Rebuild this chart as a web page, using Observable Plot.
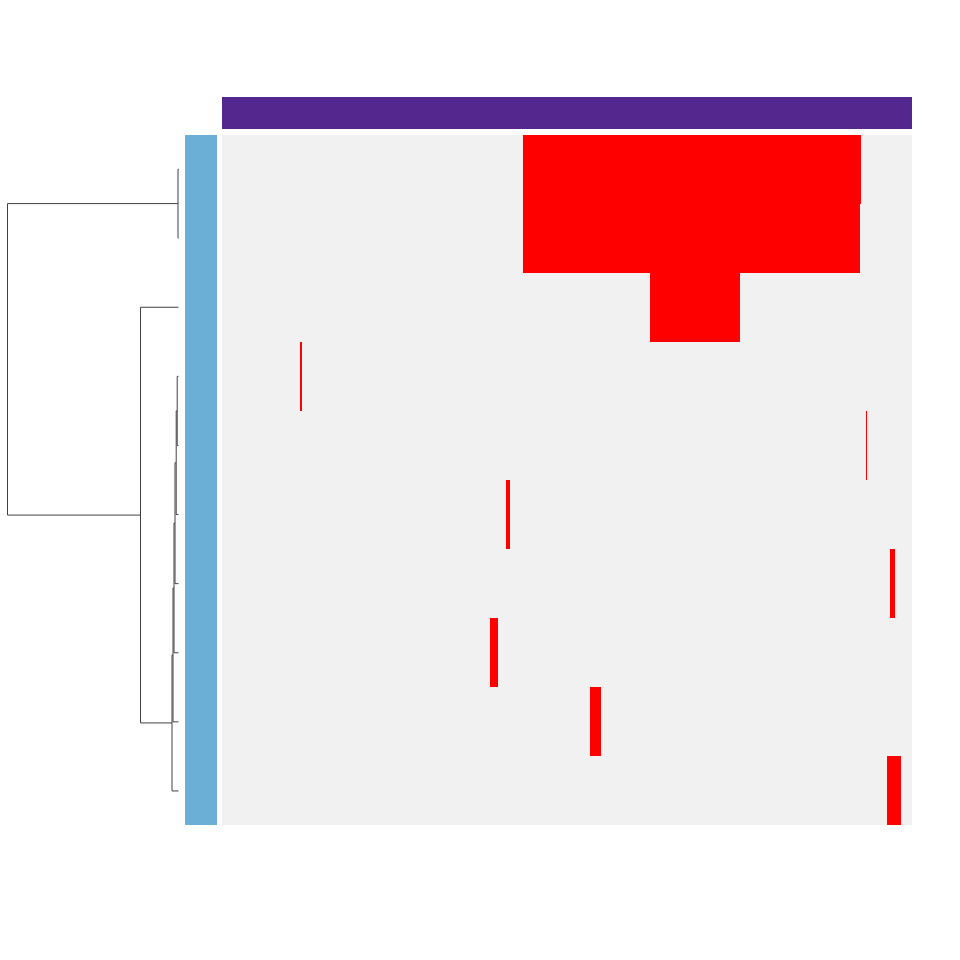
<!DOCTYPE html>
<html>
<head>
<meta charset="utf-8">
<script src="https://cdn.jsdelivr.net/npm/d3@7"></script>
<script src="https://cdn.jsdelivr.net/npm/@observablehq/plot@0.6"></script>
<style>
  html, body { margin: 0; padding: 0; background: white; }
  #chart { position: relative; width: 960px; height: 960px; }
  #chart svg { position: absolute; left: 0; top: 0; }
</style>
</head>
<body>
<div id="chart"></div>
<script>
// ---- data ----
const rowNames = ["s1","s2","s3","s4","s5","s6","s7","s8","s9","s10"];
// red segments (position as % of column span)
const segRow   = ["s1","s2","s3","s4","s5","s6","s7","s8","s9","s10"];
const segStart = [43.62, 43.62, 62.03, 11.30, 93.33, 41.16, 96.81, 38.84, 53.33, 96.38];
const segEnd   = [92.61, 92.46, 75.07, 11.59, 93.48, 41.74, 97.54, 40.00, 54.93, 98.41];
// dendrogram merges (hclust style: negative = leaf index+1, positive = merge number)
const mergeLeft   = [-1, -4, 2, 3, 4, 5, 6, -3, 1];
const mergeRight  = [-2, -5, -6, -7, -8, -9, -10, 7, 8];
const mergeHeight = [0.5, 1.3, 2.3, 3.5, 4.5, 5.5, 6.5, 38, 171];
const colAnnot = ["group"];
const rowAnnot = ["group"];

// ---- derived tables ----
const segments = segRow.map((r, i) => ({row: r, start: segStart[i], end: segEnd[i]}));
const background = rowNames.map(r => ({row: r, start: 0, end: 100}));

// dendrogram links
const nodePos = [], nodeH = [];
function pos(id) { return id < 0 ? -id - 1 : nodePos[id - 1]; }
function hgt(id) { return id < 0 ? 0 : nodeH[id - 1]; }
const links = [];
mergeLeft.forEach((a, i) => {
  const b = mergeRight[i], h = mergeHeight[i];
  const ya = pos(a), yb = pos(b);
  nodePos[i] = (ya + yb) / 2; nodeH[i] = h;
  links.push({x1: hgt(a), y1: ya, x2: h, y2: ya});
  links.push({x1: hgt(b), y1: yb, x2: h, y2: yb});
  links.push({x1: h, y1: ya, x2: h, y2: yb});
});

const W = 960, H = 960;
const chart = document.getElementById("chart");
const common = {width: W, height: H, margin: 0, style: {background: "none"}};

// heatmap
const heat = Plot.plot({
  ...common,
  x: {domain: [0, 100], range: [222, 912], axis: null},
  y: {domain: rowNames, range: [134, 825], padding: 0, axis: null},
  marks: [
    Plot.barX(background, {x1: "start", x2: "end", y: "row", fill: "#f1f1f1", inset: 0}),
    Plot.barX(segments, {x1: "start", x2: "end", y: "row", fill: "#ff0000", inset: 0})
  ]
});
chart.appendChild(heat);

// column annotation
const colBar = Plot.plot({
  ...common,
  x: {domain: [0, 100], range: [222, 912], axis: null},
  y: {domain: colAnnot, range: [97, 129], padding: 0, axis: null},
  marks: [
    Plot.barX(colAnnot, {x1: 0, x2: 100, y: d => d, fill: "#54278f", inset: 0})
  ]
});
chart.appendChild(colBar);

// row annotation
const rowBar = Plot.plot({
  ...common,
  x: {domain: rowAnnot, range: [185, 217], padding: 0, axis: null},
  y: {domain: rowNames, range: [134, 825], padding: 0, axis: null},
  marks: [
    Plot.cell(rowNames, {x: () => "group", y: d => d, fill: "#6baed6", inset: 0})
  ]
});
chart.appendChild(rowBar);

// dendrogram
const dend = Plot.plot({
  ...common,
  x: {domain: [0, 171], range: [178, 7], axis: null},
  y: {domain: [-0.5, rowNames.length - 0.5], range: [134, 825], axis: null},
  marks: [
    Plot.link(links, {x1: "x1", y1: "y1", x2: "x2", y2: "y2", stroke: "#404040", strokeWidth: 1})
  ]
});
chart.appendChild(dend);
</script>
</body>
</html>
